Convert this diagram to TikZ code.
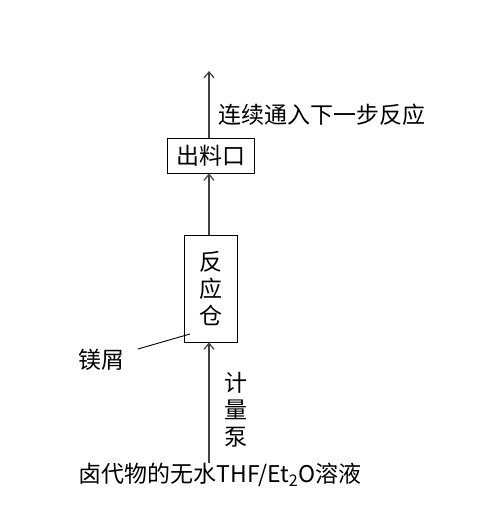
\documentclass[tikz,border=0pt]{standalone}
\usepackage{fontspec}
\setmainfont{Noto Sans CJK SC}
\usetikzlibrary{arrows.meta}
\begin{document}
\begin{tikzpicture}[x=1pt,y=-1pt,
  lbl/.style={inner sep=0pt,font=\fontsize{23}{27}\selectfont},
  boxn/.style={draw=black,line width=0.8pt,inner sep=0pt,font=\fontsize{23}{27}\selectfont},
  flow/.style={draw=black!75,line width=1.4pt,-{Straight Barb[length=6pt,width=10pt,line width=1.2pt]}}]
\useasboundingbox (0,0) rectangle (483,526);
\node[boxn,minimum width=87pt,minimum height=35pt] (out) at (210.5,155.5) {出料口};
\node[boxn,minimum width=53pt,minimum height=107pt,align=center] (reac) at (210.5,288.5) {反\\应\\仓};
\node[lbl,anchor=west] (next) at (218,115) {连续通入下一步反应};
\coordinate (top) at (209,71);
\node[lbl] (mg) at (101,360) {镁屑};
\coordinate (mgend) at (190,334);
\node[lbl,align=center] (pump) at (236,410) {计\\量\\泵};
\node[lbl] (feed) at (220,475) {卤代物的无水THF/Et\textsubscript{2}O溶液};
\draw[flow] (feed.north -| top) -- (reac.south -| top);
\draw[flow] (reac.north -| top) -- (out.south -| top);
\draw[flow] (out.north -| top) -- (top);
\draw[line width=0.9pt] (138,349) -- (mgend);
\end{tikzpicture}
\end{document}
